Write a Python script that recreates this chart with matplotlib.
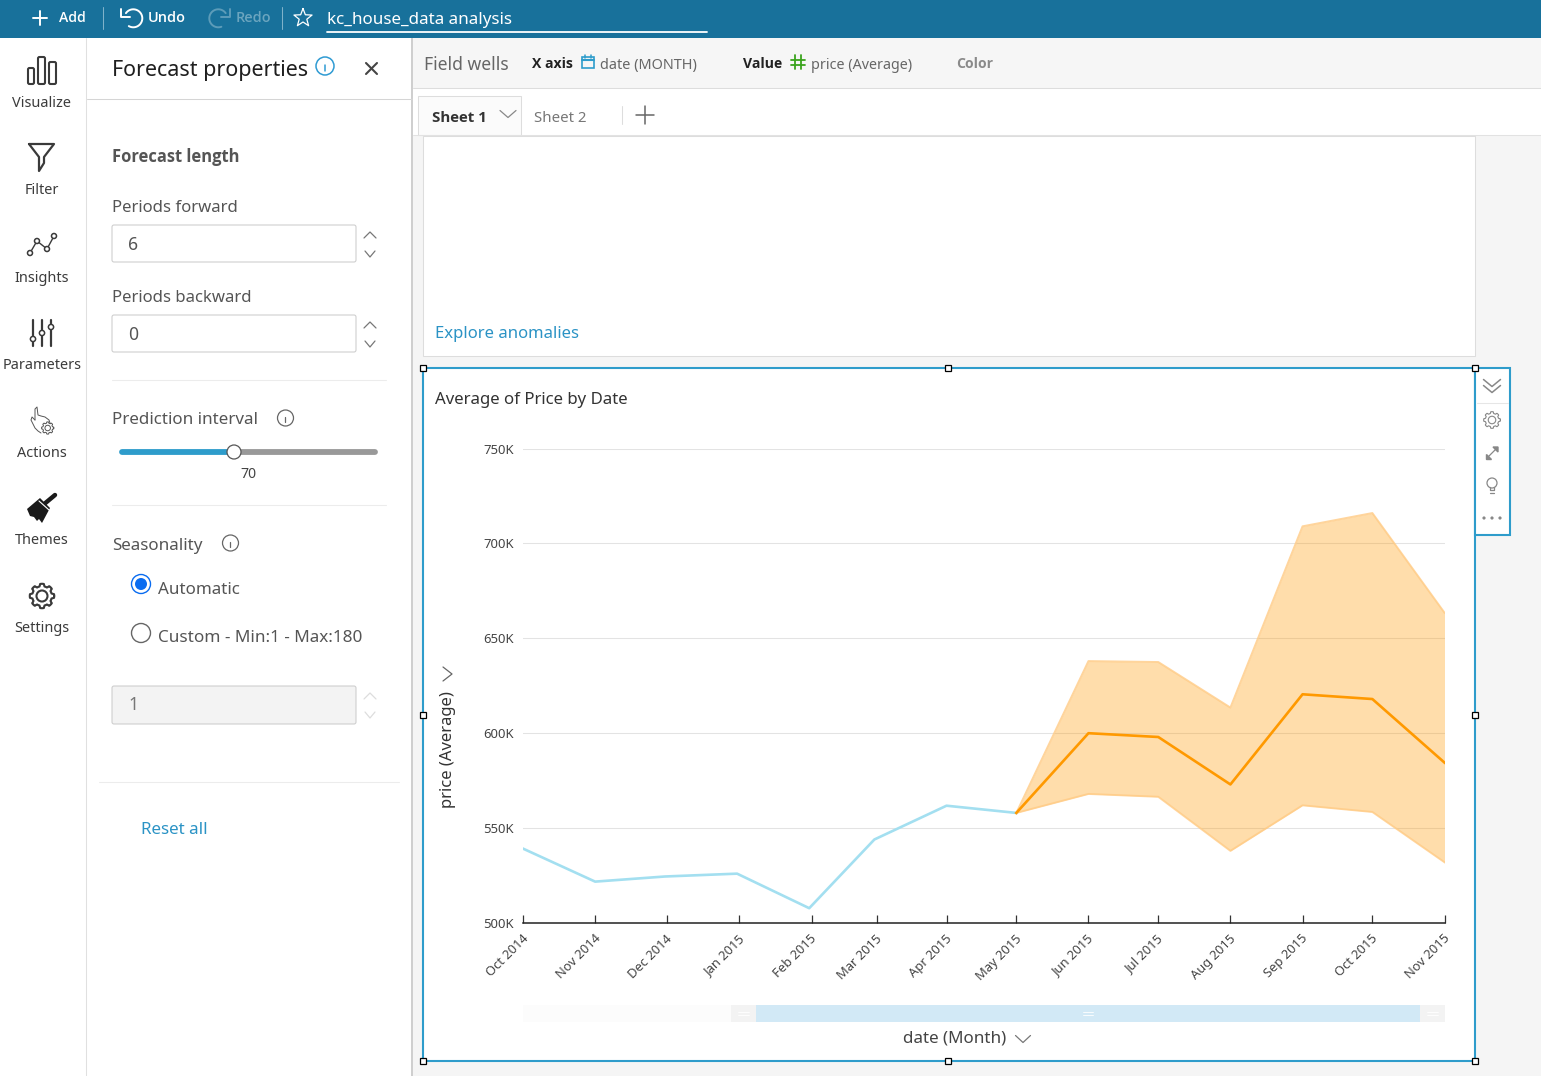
import numpy as np
import pandas as pd
import matplotlib
matplotlib.use('Agg')
import matplotlib.pyplot as plt
from matplotlib.patches import Rectangle, Circle, FancyBboxPatch, Polygon
from matplotlib.transforms import ScaledTranslation

plt.rcParams['font.family'] = ['Noto Sans', 'DejaVu Sans']

# chart values, thousands of dollars
months = ['2014-10-01', '2014-11-01', '2014-12-01', '2015-01-01', '2015-02-01', '2015-03-01', '2015-04-01',
          '2015-05-01', '2015-06-01', '2015-07-01', '2015-08-01', '2015-09-01', '2015-10-01', '2015-11-01']
# the ticks for Dec to Mar sit about a day right of the points in the reference
tick_days = ['2014-10-01', '2014-11-01', '2014-12-02', '2015-01-02', '2015-02-02', '2015-03-02', '2015-04-01',
             '2015-05-01', '2015-06-01', '2015-07-01', '2015-08-01', '2015-09-01', '2015-10-01', '2015-11-01']
month_labels = ['Oct 2014', 'Nov 2014', 'Dec 2014', 'Jan 2015', 'Feb 2015', 'Mar 2015', 'Apr 2015',
                'May 2015', 'Jun 2015', 'Jul 2015', 'Aug 2015', 'Sep 2015', 'Oct 2015', 'Nov 2015']
actual = [539.2, 521.8, 524.5, 526, 507.8, 544, 561.8, 558]
forecast = [558, 600, 598, 573, 620.5, 618, 584.5]
upper = [558, 638, 637.5, 613.5, 709, 716, 663.5]
lower = [558, 568, 566.5, 538, 562, 558.5, 532]
y_ticks = [500, 550, 600, 650, 700, 750]

W, H = 1541, 1076
BLUE = '#2e9ccb'
LINK = '#2b93c5'
ICON = '#3a3a3a'

fig = plt.figure(figsize=(W / 100, H / 100), dpi=100)

# whole window as one axes in pixel coordinates
ui = fig.add_axes([0, 0, 1, 1], zorder=0)
ui.set_xlim(0, W)
ui.set_ylim(H, 0)
ui.axis('off')


def text(x, y, s, px=16, color='#555555', weight='normal', ha='left', **kw):
    if weight != 'normal':
        kw['family'] = ['Open Sans', 'DejaVu Sans']
    return ui.text(x, y + 1.5, s, fontsize=px * 0.72, color=color, fontweight=weight, ha=ha, va='center', **kw)


def rect(x0, y0, x1, y1, fc='white', ec='none', lw=0.75, z=1):
    ui.add_patch(Rectangle((x0, y0), x1 - x0, y1 - y0, fc=fc, ec=ec, lw=lw, zorder=z))


def line(xs, ys, color=ICON, lw=1.4, z=3):
    ui.plot(xs, ys, color=color, lw=lw, zorder=z, solid_capstyle='round', solid_joinstyle='round')


def chevron(x, y, w=5, h=5, up=False, color='#777777', lw=0.9):
    s = -1 if up else 1
    line([x - w, x, x + w], [y - s * h / 2, y + s * h / 2, y - s * h / 2], color=color, lw=lw)


def gear(x, y, r, color=ICON, lw=1.4):
    a = np.linspace(0, 2 * np.pi, 121)
    rr = r * (1 + 0.11 * np.clip(3 * np.cos(8 * a), -1, 1))
    line(x + rr * np.cos(a), y + rr * np.sin(a), color=color, lw=lw)
    ui.add_patch(Circle((x, y), r * 0.5, fc='none', ec=color, lw=lw, zorder=3))


def info(x, y, r=8, color='#666666', lw=0.9):
    ui.add_patch(Circle((x, y), r, fc='none', ec=color, lw=lw, zorder=3))
    line([x, x], [y - 1.5, y + r * 0.55], color=color, lw=lw)
    line([x, x], [y - r * 0.5, y - r * 0.45], color=color, lw=lw + 0.2)


def input_box(x0, y0, x1, y1, fc='white'):
    ui.add_patch(FancyBboxPatch((x0, y0), x1 - x0, y1 - y0, boxstyle='round,pad=0,rounding_size=2',
                                fc=fc, ec='#cccccc', lw=0.75, zorder=2))


# backgrounds
rect(0, 0, W, H, fc='white', z=0)
rect(413, 136, W, H, fc='#f5f5f5', z=0)
rect(413, 38, W, 88, fc='#f6f6f6', z=0)
rect(0, 0, W, 38, fc='#18719b', z=1)
line([86, 86], [38, H], color='#e0e0e0', lw=0.75)
rect(411, 38, 413, H, fc='#cfcfcf', z=2)
line([87, 412], [99, 99], color='#d5d5d5', lw=0.75)
line([413, W], [88, 88], color='#dddddd', lw=0.75)
line([413, W], [135, 135], color='#e2e2e2', lw=0.75)

# top bar
line([33, 47], [18, 18], color='white', lw=1.4)
line([40, 40], [11, 25], color='white', lw=1.4)
text(59, 17, 'Add', 14, 'white', 'semibold')
line([103, 103], [7, 29], color='#7fb2ca', lw=0.75)
a = np.radians(np.linspace(-145, 120, 40))
line(133.3 + 9 * np.cos(a), 18.3 + 9 * np.sin(a), color='white', lw=1.4)
line([121, 121, 130], [9, 17, 17], color='white', lw=1.4)
text(148, 17, 'Undo', 14.5, 'white', 'semibold')
a = np.radians(np.linspace(-35, -290, 40))
line(218.3 + 9 * np.cos(a), 18.3 + 9 * np.sin(a), color='#5c9cb9', lw=1.4)
line([230, 230, 221], [9, 17, 17], color='#5c9cb9', lw=1.4)
text(236, 17, 'Redo', 14.5, '#6ba5bf', 'semibold')
line([282, 282], [7, 29], color='#7fb2ca', lw=0.75)
a = np.pi / 2 + np.arange(11) * np.pi / 5
rr = np.where(np.arange(11) % 2 == 0, 9.5, 4)
line(303 + rr * np.cos(a), 18 - rr * np.sin(a), color='white', lw=0.9)
text(327, 18, 'kc_house_data analysis', 17, 'white')
line([327, 707], [32, 32], color='white', lw=1.3)

# left icon column
for y, s in zip([102, 189, 277, 364, 452, 539, 627],
                ['Visualize', 'Filter', 'Insights', 'Parameters', 'Actions', 'Themes', 'Settings']):
    text(42, y, s, 14.5, '#3c3c3c', ha='center')
for x0, y0, x1 in [(28, 68, 34), (38, 57, 45), (49, 62, 56)]:
    ui.add_patch(FancyBboxPatch((x0, y0), x1 - x0, 84 - y0, boxstyle='round,pad=0,rounding_size=1.5',
                                fc='none', ec=ICON, lw=1.5, zorder=3))
line([29, 54, 44, 44, 39, 39, 29], [144, 144, 157, 163, 171, 157, 144], lw=1.6)
px, py = [30, 37, 47, 54], [253, 241, 249, 236]
line(px, py, lw=1.0)
for x, y in zip(px, py):
    ui.add_patch(Circle((x, y), 2.5, fc='white', ec=ICON, lw=1.1, zorder=4))
for x, y in [(33, 339), (42, 333), (51, 327)]:
    line([x, x], [320, 346], lw=1.6)
    ui.add_patch(Circle((x, y), 2.6, fc='white', ec=ICON, lw=1.1, zorder=4))
line([35, 35, 37, 38, 41, 45, 49, 50], [420, 409, 407, 415, 416, 417, 420, 423], lw=0.7, color='#555555')
line([35, 32, 31, 35, 38, 41], [420, 417, 420, 428, 431, 433], lw=0.7, color='#555555')
gear(47.7, 428, 5.5, lw=0.7, color='#555555')
ui.add_patch(Polygon([[27, 509], [40, 498], [50, 508], [42, 523], [39, 519], [37, 521], [34, 517], [30, 516]],
                     fc='#1a1a1a', ec='none', zorder=3))
line([43, 55], [505, 495], color='#1a1a1a', lw=3.2)
line([39, 49], [501, 510], color='white', lw=0.8, z=4)
gear(42, 596, 11, lw=1.5)

# forecast panel
text(112, 69, 'Forecast properties', 21.5, '#1f1f1f')
info(325, 66, 9, color='#2f9bd3', lw=1.1)
line([366, 377], [63, 74], color='#444444', lw=1.5)
line([366, 377], [74, 63], color='#444444', lw=1.5)
text(112, 155, 'Forecast length', 16.5, '#555555', 'bold')
text(112, 207, 'Periods forward', 16.7)
input_box(112, 225, 356, 262)
text(128, 243, '6', 17.5, '#555555')
chevron(370, 235, 6, 6, up=True)
chevron(370, 254, 5, 6)
text(112, 297, 'Periods backward', 16.7)
input_box(112, 315, 356, 352)
text(128, 333, '0', 17.5, '#555555')
chevron(370, 325, 6, 6, up=True)
chevron(370, 344, 5, 6)
line([112, 386], [380, 380], color='#ececec', lw=0.75)
text(112, 419, 'Prediction interval', 17)
info(285.5, 418)
line([122, 234], [452, 452], color='#2e9ccb', lw=4.2)
line([234, 375], [452, 452], color='#999999', lw=4.2)
ui.add_patch(Circle((234, 452), 7, fc='white', ec='#555555', lw=0.9, zorder=5))
text(248.5, 473, '70', 14, '#444444', ha='center')
line([112, 386], [505, 505], color='#ececec', lw=0.75)
text(112, 544, 'Seasonality', 17)
info(230.5, 543)
ui.add_patch(Circle((141, 584), 9.5, fc='white', ec='#0a6cf0', lw=1, zorder=3))
ui.add_patch(Circle((141, 584), 6, fc='#0a6cf0', ec='none', zorder=4))
text(158, 588, 'Automatic', 17)
ui.add_patch(Circle((141, 633), 9.5, fc='white', ec='#666666', lw=1, zorder=3))
text(158, 637, 'Custom - Min:1 - Max:180', 17.1)
input_box(112, 686, 356, 724, fc='#f3f3f3')
text(128, 704, '1', 17.5, '#777777')
chevron(370, 696, 6, 6, up=True, color='#dddddd')
chevron(370, 715, 5, 6, color='#dddddd')
line([99, 399], [782, 782], color='#ececec', lw=0.75)
text(141, 829, 'Reset all', 17, LINK)

# field wells and sheets
text(424, 63, 'Field wells', 17.5, '#666666')
text(532, 63, 'X axis', 14, '#222222', 'bold')
rect(582.5, 57, 594.5, 68, fc='none', ec=BLUE, lw=1.2, z=3)
line([582.5, 594.5], [59.5, 59.5], color=BLUE, lw=1.5)
line([585.5, 585.5], [55, 58], color=BLUE, lw=1.1)
line([591.5, 591.5], [55, 58], color=BLUE, lw=1.1)
text(600, 64, 'date (MONTH)', 14.5, '#666666')
text(743, 63, 'Value', 14, '#222222', 'bold')
for x in [795, 801]:
    line([x, x], [55, 69], color='#3aa41c', lw=1.3)
for y in [59.5, 65]:
    line([791, 805], [y, y], color='#3aa41c', lw=1.3)
text(811, 64, 'price (Average)', 14.3, '#666666')
text(956, 63, 'Color', 14, '#8a8a8a', 'bold')
rect(418, 96, 521, 135, fc='#fbfbfb', ec='#dddddd', z=2)
text(432, 116, 'Sheet 1', 15, '#333333', 'bold')
chevron(508, 114, 8, 7, color='#888888')
text(534, 117, 'Sheet 2', 15, '#777777')
line([622, 622], [106, 124], color='#dddddd', lw=0.75)
line([636, 654], [115, 115], color='#666666', lw=1.1)
line([645, 645], [106, 124], color='#666666', lw=1.1)

# cards
rect(423, 136, 1475, 356, ec='#dddddd', z=1)
text(435, 333, 'Explore anomalies', 16.7, LINK)
rect(423, 368, 1475, 1061, ec=BLUE, lw=1.5, z=1)
rect(1475, 368, 1510, 535, ec=BLUE, lw=1.5, z=1)
text(435, 399, 'Average of Price by Date', 16.8, '#333333')

# visual toolbar
chevron(1492, 383, 8.5, 7, color='#888888', lw=1.1)
chevron(1492, 389, 8.5, 7, color='#888888', lw=1.1)
line([1477, 1508], [403, 403], color='#e6e6e6', lw=0.75)
gear(1492, 420, 7.5, color='#888888', lw=0.8)
line([1487, 1497], [458, 448], color='#888888', lw=0.9)
ui.add_patch(Polygon([[1486, 454], [1486, 459], [1491, 459]], fc='#888888', ec='#888888', zorder=3))
ui.add_patch(Polygon([[1498, 447], [1498, 452], [1493, 447]], fc='#888888', ec='#888888', zorder=3))
ui.add_patch(Circle((1492, 483), 5, fc='white', ec='#888888', lw=0.9, zorder=3))
line([1490, 1490, 1494, 1494], [487, 490, 490, 487], color='#888888', lw=0.9)
line([1490, 1494], [492.5, 492.5], color='#888888', lw=0.9)
for x in [1484, 1492, 1500]:
    ui.add_patch(Circle((x, 518), 1.6, fc='#888888', ec='none', zorder=3))

# selection handles
for x, y in [(423, 368), (948, 368), (1475, 368), (423, 715), (1475, 715), (423, 1061), (948, 1061), (1475, 1061)]:
    rect(x - 3, y - 3, x + 3, y + 3, fc='white', ec='black', lw=0.9, z=6)

# range slider under the chart
rect(523, 1005, 731, 1022, fc='#fcfcfc', z=1)
rect(731, 1005, 756, 1022, fc='#f3f3f3', z=1)
rect(756, 1005, 1420, 1022, fc='#d2e9f6', z=1)
rect(1420, 1005, 1445, 1022, fc='#f3f3f3', z=1)
for y in [1011.5, 1014.5]:
    line([738, 749], [y, y], color='white', lw=0.6)
    line([1427, 1438], [y, y], color='white', lw=0.6)
    line([1083, 1093], [y, y], color='white', lw=0.6)

# chart
ax = fig.add_axes([523 / W, 1 - 923 / H, 921.5 / W, 474.5 / H], zorder=2)
ax.patch.set_alpha(0)
dates = pd.to_datetime(months)
ax.fill_between(dates[7:], lower, upper, color='#ff9900', alpha=0.33, lw=0)
ax.plot(dates[7:], upper, color='#ffcb85', lw=1.4, alpha=0.8)
ax.plot(dates[7:], lower, color='#ffcb85', lw=1.4, alpha=0.8)
ax.plot(dates[:8], actual, color='#a3dff0', lw=1.9)
ax.plot(dates[7:], forecast, color='#ff9900', lw=1.9)
ax.set_xlim(dates[0], dates[-1])
ax.set_ylim(500, 750)
ax.set_yticks(y_ticks)
ax.set_yticklabels([str(v) + 'K' for v in y_ticks], fontsize=9.4, color='#444444')
ax.set_xticks(pd.to_datetime(tick_days))
ax.set_xticklabels(month_labels, fontsize=9.3, color='#444444', rotation=45, ha='right', rotation_mode='anchor')
ax.grid(axis='y', color='#e3e3e3', lw=0.75)
ax.set_axisbelow(True)
ax.tick_params(axis='y', length=0, pad=6.7)
ax.tick_params(axis='x', direction='in', length=5.5, width=0.9, color='#333333', pad=7)
# labels end a little to the left of their ticks
for lab in ax.get_xticklabels():
    lab.set_transform(lab.get_transform() + ScaledTranslation(-1 / 72, 0.5 / 72, fig.dpi_scale_trans))
for side in ['top', 'right', 'left']:
    ax.spines[side].set_visible(False)
ax.spines['bottom'].set_color('#222222')
ax.spines['bottom'].set_linewidth(1.1)

# axis titles sit in the card, not next to the axes
text(448.5, 748, 'price (Average)', 16.6, '#333333', ha='center', rotation=90, zorder=5)
line([443, 452, 443], [667, 674, 681], color='#666666', lw=0.9)
text(955, 1037, 'date (Month)', 17, '#444444', ha='center')
chevron(1023, 1039, 7.5, 7, color='#777777')

fig.savefig('out.png', dpi=100)
